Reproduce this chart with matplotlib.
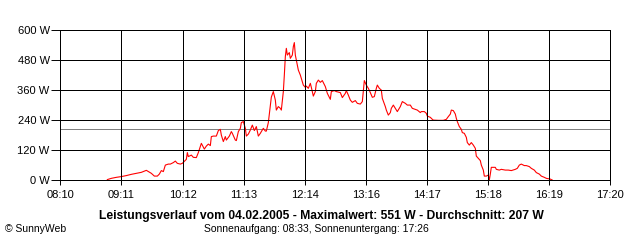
import numpy as np
import matplotlib.pyplot as plt

plt.rcParams['font.family'] = ['Liberation Sans', 'DejaVu Sans']

# minutes after 08:10 and power in W
minutes = [47, 51, 56, 61, 66, 71, 76, 81, 86, 89, 91, 94, 97, 99, 101, 103, 105,
           108, 110, 113, 115, 117, 120, 122, 124, 126, 127, 128, 131, 133, 136,
           138, 140, 141, 144, 146, 148, 150, 151, 153, 156, 158, 160, 161, 163,
           165, 166, 169, 171, 172, 175, 176, 178, 180, 181, 183, 185, 186, 188,
           190, 192, 194, 196, 198, 200, 201, 203, 205, 206, 208, 210, 211, 213,
           215, 216, 218, 220, 221, 223, 224, 225, 226, 227, 229, 230, 232, 233,
           234, 235, 236, 238, 240, 241, 243, 245, 246, 248, 250, 251, 253, 255,
           256, 258, 260, 262, 265, 267, 270, 271, 274, 276, 280, 282, 285, 286,
           288, 290, 292, 295, 297, 300, 302, 304, 306, 308, 310, 312, 314, 316,
           317, 319, 321, 322, 325, 326, 328, 330, 331, 333, 335, 337, 340, 342,
           345, 347, 350, 352, 355, 357, 360, 361, 364, 366, 367, 370, 372, 373,
           378, 383, 386, 388, 390, 391, 393, 395, 396, 397, 399, 401, 402, 404,
           406, 407, 409, 411, 413, 415, 416, 418, 420, 421, 423, 424, 426, 428,
           429, 430, 431, 433, 435, 436, 439, 441, 445, 448, 451, 455, 457, 459,
           461, 464, 466, 469, 471, 474, 476, 479, 481, 484, 486, 490, 492]
watts = [3, 8, 12, 15, 19, 24, 28, 32, 40, 33, 28, 17, 17, 25, 39, 35, 61,
         65, 65, 71, 77, 68, 65, 68, 76, 84, 111, 95, 101, 92, 91,
         111, 135, 148, 125, 137, 145, 139, 175, 177, 177, 199, 204, 181, 155,
         175, 161, 177, 195, 188, 161, 159, 195, 208, 231, 235, 208, 177, 185,
         201, 221, 199, 215, 177, 188, 195, 208, 197, 197, 231, 301, 333, 355,
         321, 281, 295, 288, 281, 355, 421, 495, 528, 501, 511, 488, 501, 535,
         551, 501, 481, 441, 421, 408, 381, 372, 377, 368, 388, 372, 337, 355,
         388, 401, 392, 399, 375, 348, 324, 355, 359, 355, 351, 331, 348, 359,
         341, 321, 312, 319, 308, 305, 315, 399, 381, 368, 351, 332, 335, 368,
         381, 368, 361, 328, 295, 281, 261, 271, 288, 301, 288, 275, 295, 315,
         308, 301, 301, 288, 284, 281, 271, 275, 275, 268, 257, 252, 244, 241,
         240, 240, 244, 255, 265, 281, 279, 265, 248, 235, 215, 204, 191, 188,
         172, 151, 141, 151, 141, 128, 97, 88, 79, 61, 41, 17, 17, 21,
         1, 25, 52, 52, 52, 44, 41, 44, 41, 41, 39, 44, 48, 61,
         65, 59, 59, 55, 48, 41, 31, 25, 17, 12, 8, 5, 1]
average = 207
tick_labels = ['08:10', '09:11', '10:12', '11:13', '12:14', '13:16',
               '14:17', '15:18', '16:19', '17:20']
y_ticks = [0, 120, 240, 360, 480, 600]

fig = plt.figure(figsize=(6.4, 2.4), dpi=100)
ax = fig.add_axes([0.0943, 0.2486, 0.8593, 0.625])

ax.axhline(average, color='#808080', lw=0.7, zorder=1, antialiased=False)
ax.plot(minutes, watts, color='#ff0000', lw=0.8, zorder=2)

ax.set_xlim(0, 550)
ax.set_ylim(0, 600)
ax.set_xticks(np.linspace(0, 550, 10))
ax.set_xticklabels(tick_labels)
ax.set_yticks(y_ticks)
ax.set_yticklabels([f'{v} W' for v in y_ticks])
ax.set_axisbelow(False)
ax.grid(True, color='black', lw=0.7, antialiased=False)
for s in ax.spines.values():
    s.set_linewidth(0.7)
    s.set_antialiased(False)
ax.tick_params(axis='y', length=6.2, width=0.7, pad=1.5, labelsize=8)
ax.tick_params(axis='x', length=3.6, width=0.7, pad=3, labelsize=8)

fig.text(0.503, 0.10, 'Leistungsverlauf vom 04.02.2005 - Maximalwert: 551 W - Durchschnitt: 207 W',
         ha='center', va='center', fontsize=8.7, fontweight='bold')
fig.text(0.494, 0.045, 'Sonnenaufgang: 08:33, Sonnenuntergang: 17:26',
         ha='center', va='center', fontsize=7.5)
fig.text(0.008, 0.045, '© SunnyWeb', ha='left', va='center', fontsize=7.5)

fig.savefig('out.png', dpi=100)
